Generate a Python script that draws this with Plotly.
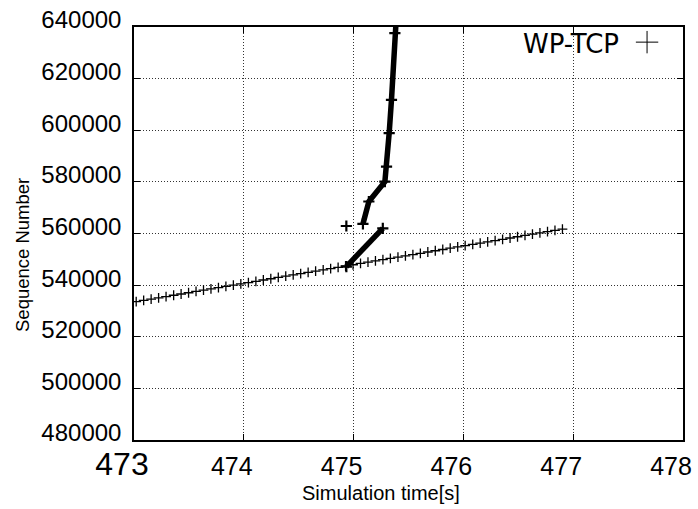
import plotly.graph_objects as go

# Sequence numbers of the steady WP-TCP flow (time in s, sequence number)
steady_time = [473.020, 473.088, 473.156, 473.224, 473.292, 473.361, 473.429, 473.497,
               473.565, 473.633, 473.701, 473.769, 473.837, 473.905, 473.973, 474.042,
               474.110, 474.178, 474.246, 474.314, 474.382, 474.450, 474.518, 474.586,
               474.654, 474.723, 474.791, 474.859, 474.927, 474.995, 475.063, 475.131,
               475.199, 475.267, 475.335, 475.404, 475.472, 475.540, 475.608, 475.676,
               475.744, 475.812, 475.880, 475.948, 476.016, 476.085, 476.153, 476.221,
               476.289, 476.357, 476.425, 476.493, 476.561, 476.629, 476.697, 476.766,
               476.834, 476.902]
steady_seq = [533600, 534090, 534590, 535080, 535570, 536070, 536560, 537050,
              537540, 538040, 538530, 539020, 539520, 540010, 540500, 541000,
              541490, 541980, 542470, 542970, 543460, 543950, 544450, 544940,
              545430, 545930, 546420, 546910, 547400, 547900, 548390, 548880,
              549380, 549870, 550360, 550860, 551350, 551840, 552330, 552830,
              553320, 553810, 554310, 554800, 555290, 555790, 556280, 556770,
              557260, 557760, 558250, 558740, 559240, 559730, 560220, 560720,
              561210, 561700]

# Burst of densely packed packets around t = 475 s (None separates the runs)
burst_time = [474.934, None,
              474.934, 475.266, None,
              475.085, 475.139, 475.285, 475.300, 475.324, 475.345, 475.376, 475.386]
burst_seq = [562900, None,
             547200, 562000, None,
             563700, 572400, 580100, 585900, 598900, 611800, 637600, 641500]

x_ticks = [473, 474, 475, 476, 477, 478]
x_tick_labels = ['<span style="font-size:32px">473</span>', "474", "475", "476", "477", "478"]
y_ticks = [480000, 500000, 520000, 540000, 560000, 580000, 600000, 620000, 640000]
y_tick_labels = [str(v) for v in y_ticks]

SANS = "Liberation Sans, Arial, sans-serif"

fig = go.Figure()

fig.add_trace(go.Scatter(
    x=steady_time, y=steady_seq, mode="markers",
    marker=dict(symbol="cross-thin", size=7, color="black",
                line=dict(color="black", width=1.3)),
    showlegend=False, legendgroup="wp",
))

fig.add_trace(go.Scatter(
    x=burst_time, y=burst_seq, mode="lines+markers",
    line=dict(color="black", width=5.5),
    marker=dict(symbol="cross-thin", size=8, color="black",
                line=dict(color="black", width=2.2)),
    showlegend=False, legendgroup="wp", connectgaps=False,
))

# Legend key for the series (title carries the series name, key sits to its right)
fig.add_trace(go.Scatter(
    x=[None], y=[None], mode="markers", name="",
    marker=dict(symbol="cross-thin", size=16, color="black",
                line=dict(color="black", width=1)),
    showlegend=True, legendgroup="wp",
))

axis_common = dict(
    showline=True, linecolor="black", linewidth=1.5, mirror="ticks",
    ticks="inside", ticklen=6, tickwidth=1, tickcolor="black",
    showgrid=True, gridcolor="#333333", gridwidth=1, griddash="1px,2px",
    zeroline=False,
)

fig.update_xaxes(
    range=[473, 478], tickmode="array", tickvals=x_ticks, ticktext=x_tick_labels,
    tickfont=dict(family=SANS, size=25, color="black"),
    ticklabelshift=-12, ticklabelstandoff=3,
    **axis_common,
)
fig.update_yaxes(
    range=[480000, 640000], tickmode="array", tickvals=y_ticks, ticktext=y_tick_labels,
    tickfont=dict(family=SANS, size=24, color="black"),
    ticklabelshift=-7, ticklabelstandoff=6,
    **axis_common,
)

fig.add_annotation(
    text="Simulation time[s]", xref="paper", yref="paper",
    x=(381 - 134) / 549, y=-(493 - 440) / 413, xanchor="center", yanchor="middle",
    showarrow=False, font=dict(family=SANS, size=20, color="black"),
)
fig.add_annotation(
    text="Sequence Number", xref="paper", yref="paper", textangle=-90,
    x=(22 - 134) / 549, y=(440 - 255) / 413, xanchor="center", yanchor="middle",
    showarrow=False, font=dict(family=SANS, size=18.5, color="black"),
)

fig.update_layout(
    width=698, height=509,
    margin=dict(l=134, r=15, t=27, b=69, autoexpand=False),
    paper_bgcolor="white", plot_bgcolor="white",
    legend=dict(
        title=dict(text="WP-TCP", side="left",
                   font=dict(family="DejaVu Sans", size=26, color="black")),
        x=0.705, y=1.02, xanchor="left", yanchor="top",
        bgcolor="rgba(0,0,0,0)", borderwidth=0,
        font=dict(family="DejaVu Sans", size=26, color="black"),
    ),
)

fig.write_html("out.html")
